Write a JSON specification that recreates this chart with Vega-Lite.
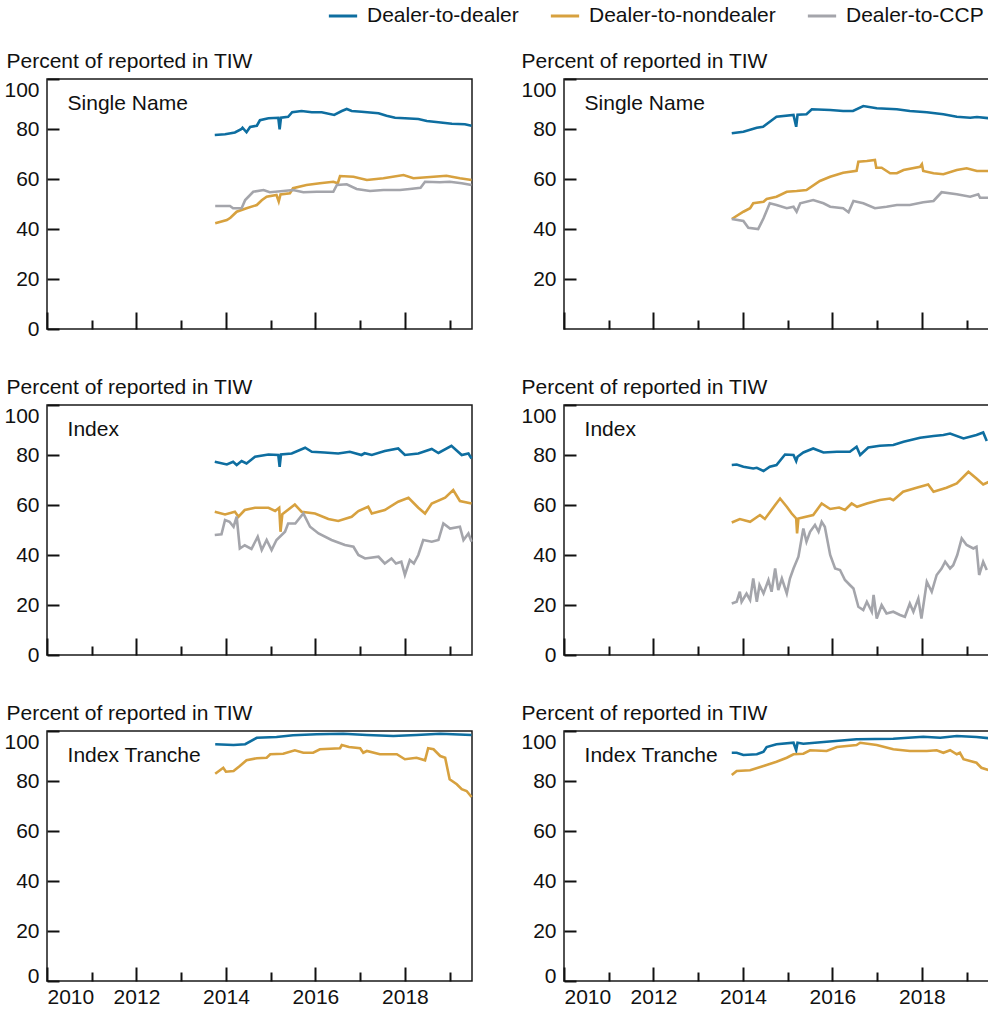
{
"$schema": "https://vega.github.io/schema/vega-lite/v6.json",
"background": "white",
"padding": {"left": 3, "top": 0, "right": 0, "bottom": 0},
"bounds": "flush",
"columns": 2,
"spacing": {"row": 76, "column": 92},
"datasets": {
"snL": [
{"t":2013.75,"v":77.6,"s":"DD"},{"t":2013.98,"v":77.9,"s":"DD"},{"t":2014.2,"v":78.6,"s":"DD"},{"t":2014.34,"v":79.9,"s":"DD"},{"t":2014.37,"v":80.5,"s":"DD"},{"t":2014.46,"v":78.7,"s":"DD"},{"t":2014.54,"v":80.8,"s":"DD"},{"t":2014.69,"v":81.3,"s":"DD"},{"t":2014.76,"v":83.5,"s":"DD"},{"t":2014.95,"v":84.3,"s":"DD"},{"t":2015.17,"v":84.5,"s":"DD"},{"t":2015.2,"v":79.9,"s":"DD"},{"t":2015.23,"v":84.5,"s":"DD"},{"t":2015.39,"v":84.9,"s":"DD"},{"t":2015.48,"v":86.7,"s":"DD"},{"t":2015.69,"v":87.2,"s":"DD"},{"t":2015.92,"v":86.7,"s":"DD"},{"t":2016.14,"v":86.7,"s":"DD"},{"t":2016.42,"v":85.6,"s":"DD"},{"t":2016.59,"v":87.2,"s":"DD"},{"t":2016.7,"v":88.0,"s":"DD"},{"t":2016.81,"v":87.2,"s":"DD"},{"t":2017.03,"v":86.9,"s":"DD"},{"t":2017.41,"v":86.3,"s":"DD"},{"t":2017.59,"v":85.3,"s":"DD"},{"t":2017.78,"v":84.5,"s":"DD"},{"t":2018.0,"v":84.3,"s":"DD"},{"t":2018.3,"v":84.0,"s":"DD"},{"t":2018.49,"v":83.2,"s":"DD"},{"t":2018.75,"v":82.7,"s":"DD"},{"t":2019.05,"v":82.1,"s":"DD"},{"t":2019.34,"v":81.9,"s":"DD"},{"t":2019.49,"v":81.3,"s":"DD"},
{"t":2013.76,"v":42.3,"s":"DN"},{"t":2014.02,"v":43.6,"s":"DN"},{"t":2014.1,"v":44.5,"s":"DN"},{"t":2014.24,"v":46.9,"s":"DN"},{"t":2014.46,"v":48.3,"s":"DN"},{"t":2014.69,"v":49.6,"s":"DN"},{"t":2014.8,"v":51.5,"s":"DN"},{"t":2014.91,"v":52.9,"s":"DN"},{"t":2015.13,"v":53.6,"s":"DN"},{"t":2015.18,"v":51.0,"s":"DN"},{"t":2015.22,"v":53.8,"s":"DN"},{"t":2015.43,"v":54.3,"s":"DN"},{"t":2015.5,"v":56.3,"s":"DN"},{"t":2015.8,"v":57.6,"s":"DN"},{"t":2016.1,"v":58.3,"s":"DN"},{"t":2016.4,"v":58.9,"s":"DN"},{"t":2016.5,"v":58.3,"s":"DN"},{"t":2016.55,"v":61.2,"s":"DN"},{"t":2016.85,"v":60.9,"s":"DN"},{"t":2017.15,"v":59.6,"s":"DN"},{"t":2017.52,"v":60.3,"s":"DN"},{"t":2017.97,"v":61.6,"s":"DN"},{"t":2018.19,"v":60.3,"s":"DN"},{"t":2018.64,"v":60.9,"s":"DN"},{"t":2018.93,"v":61.3,"s":"DN"},{"t":2019.23,"v":60.3,"s":"DN"},{"t":2019.49,"v":59.6,"s":"DN"},
{"t":2013.76,"v":49.2,"s":"DC"},{"t":2014.09,"v":49.2,"s":"DC"},{"t":2014.16,"v":48.3,"s":"DC"},{"t":2014.35,"v":48.3,"s":"DC"},{"t":2014.43,"v":51.6,"s":"DC"},{"t":2014.61,"v":54.9,"s":"DC"},{"t":2014.84,"v":55.6,"s":"DC"},{"t":2014.98,"v":54.7,"s":"DC"},{"t":2015.28,"v":55.2,"s":"DC"},{"t":2015.5,"v":55.6,"s":"DC"},{"t":2015.73,"v":54.7,"s":"DC"},{"t":2016.03,"v":54.9,"s":"DC"},{"t":2016.4,"v":54.9,"s":"DC"},{"t":2016.48,"v":57.6,"s":"DC"},{"t":2016.7,"v":57.9,"s":"DC"},{"t":2016.92,"v":56.0,"s":"DC"},{"t":2017.22,"v":55.2,"s":"DC"},{"t":2017.52,"v":55.6,"s":"DC"},{"t":2017.89,"v":55.6,"s":"DC"},{"t":2018.11,"v":56.0,"s":"DC"},{"t":2018.35,"v":56.5,"s":"DC"},{"t":2018.45,"v":58.9,"s":"DC"},{"t":2018.78,"v":58.7,"s":"DC"},{"t":2019.0,"v":58.9,"s":"DC"},{"t":2019.27,"v":58.3,"s":"DC"},{"t":2019.49,"v":57.6,"s":"DC"}
],
"snR": [
{"t":2013.75,"v":78.3,"s":"DD"},{"t":2014.01,"v":78.9,"s":"DD"},{"t":2014.31,"v":80.5,"s":"DD"},{"t":2014.45,"v":80.9,"s":"DD"},{"t":2014.6,"v":82.9,"s":"DD"},{"t":2014.75,"v":84.9,"s":"DD"},{"t":2015.13,"v":85.6,"s":"DD"},{"t":2015.19,"v":80.9,"s":"DD"},{"t":2015.22,"v":85.7,"s":"DD"},{"t":2015.42,"v":85.9,"s":"DD"},{"t":2015.54,"v":87.9,"s":"DD"},{"t":2015.95,"v":87.6,"s":"DD"},{"t":2016.24,"v":87.2,"s":"DD"},{"t":2016.46,"v":87.2,"s":"DD"},{"t":2016.69,"v":89.2,"s":"DD"},{"t":2016.99,"v":88.3,"s":"DD"},{"t":2017.44,"v":87.9,"s":"DD"},{"t":2017.73,"v":87.2,"s":"DD"},{"t":2018.11,"v":86.7,"s":"DD"},{"t":2018.48,"v":85.9,"s":"DD"},{"t":2018.78,"v":84.9,"s":"DD"},{"t":2019.08,"v":84.5,"s":"DD"},{"t":2019.23,"v":84.8,"s":"DD"},{"t":2019.5,"v":84.3,"s":"DD"},
{"t":2013.75,"v":44.0,"s":"DN"},{"t":2014.01,"v":46.9,"s":"DN"},{"t":2014.16,"v":48.3,"s":"DN"},{"t":2014.23,"v":50.3,"s":"DN"},{"t":2014.46,"v":50.9,"s":"DN"},{"t":2014.53,"v":52.0,"s":"DN"},{"t":2014.75,"v":52.9,"s":"DN"},{"t":2014.98,"v":54.9,"s":"DN"},{"t":2015.2,"v":55.2,"s":"DN"},{"t":2015.42,"v":55.6,"s":"DN"},{"t":2015.72,"v":59.2,"s":"DN"},{"t":2015.95,"v":60.9,"s":"DN"},{"t":2016.24,"v":62.5,"s":"DN"},{"t":2016.54,"v":63.3,"s":"DN"},{"t":2016.58,"v":66.9,"s":"DN"},{"t":2016.77,"v":67.2,"s":"DN"},{"t":2016.95,"v":67.6,"s":"DN"},{"t":2016.98,"v":64.5,"s":"DN"},{"t":2017.1,"v":64.5,"s":"DN"},{"t":2017.29,"v":62.3,"s":"DN"},{"t":2017.44,"v":62.3,"s":"DN"},{"t":2017.59,"v":63.6,"s":"DN"},{"t":2017.96,"v":64.9,"s":"DN"},{"t":2018.0,"v":65.9,"s":"DN"},{"t":2018.03,"v":63.2,"s":"DN"},{"t":2018.26,"v":62.3,"s":"DN"},{"t":2018.48,"v":61.9,"s":"DN"},{"t":2018.78,"v":63.6,"s":"DN"},{"t":2019.0,"v":64.3,"s":"DN"},{"t":2019.23,"v":63.2,"s":"DN"},{"t":2019.5,"v":63.2,"s":"DN"},
{"t":2013.75,"v":44.0,"s":"DC"},{"t":2014.01,"v":43.2,"s":"DC"},{"t":2014.12,"v":40.5,"s":"DC"},{"t":2014.34,"v":40.0,"s":"DC"},{"t":2014.46,"v":44.3,"s":"DC"},{"t":2014.6,"v":50.3,"s":"DC"},{"t":2014.75,"v":49.6,"s":"DC"},{"t":2014.98,"v":48.3,"s":"DC"},{"t":2015.13,"v":48.9,"s":"DC"},{"t":2015.2,"v":46.9,"s":"DC"},{"t":2015.28,"v":50.3,"s":"DC"},{"t":2015.57,"v":51.6,"s":"DC"},{"t":2015.8,"v":50.3,"s":"DC"},{"t":2015.95,"v":48.9,"s":"DC"},{"t":2016.24,"v":48.3,"s":"DC"},{"t":2016.36,"v":46.7,"s":"DC"},{"t":2016.47,"v":51.2,"s":"DC"},{"t":2016.69,"v":50.3,"s":"DC"},{"t":2016.95,"v":48.3,"s":"DC"},{"t":2017.21,"v":48.9,"s":"DC"},{"t":2017.44,"v":49.6,"s":"DC"},{"t":2017.73,"v":49.6,"s":"DC"},{"t":2018.03,"v":50.7,"s":"DC"},{"t":2018.26,"v":51.2,"s":"DC"},{"t":2018.44,"v":54.7,"s":"DC"},{"t":2018.78,"v":53.9,"s":"DC"},{"t":2019.08,"v":52.9,"s":"DC"},{"t":2019.26,"v":53.9,"s":"DC"},{"t":2019.3,"v":52.5,"s":"DC"},{"t":2019.5,"v":52.5,"s":"DC"}
],
"ixL": [
{"t":2013.75,"v":77.3,"s":"DD"},{"t":2014.02,"v":76.2,"s":"DD"},{"t":2014.16,"v":77.3,"s":"DD"},{"t":2014.24,"v":76.0,"s":"DD"},{"t":2014.35,"v":77.6,"s":"DD"},{"t":2014.46,"v":76.6,"s":"DD"},{"t":2014.65,"v":79.3,"s":"DD"},{"t":2014.95,"v":80.2,"s":"DD"},{"t":2015.17,"v":80.0,"s":"DD"},{"t":2015.2,"v":75.3,"s":"DD"},{"t":2015.23,"v":80.2,"s":"DD"},{"t":2015.47,"v":80.6,"s":"DD"},{"t":2015.77,"v":82.9,"s":"DD"},{"t":2015.92,"v":81.3,"s":"DD"},{"t":2016.2,"v":81.0,"s":"DD"},{"t":2016.51,"v":80.6,"s":"DD"},{"t":2016.77,"v":81.3,"s":"DD"},{"t":2017.03,"v":80.0,"s":"DD"},{"t":2017.1,"v":80.7,"s":"DD"},{"t":2017.26,"v":80.0,"s":"DD"},{"t":2017.55,"v":81.6,"s":"DD"},{"t":2017.85,"v":82.6,"s":"DD"},{"t":2018.0,"v":80.0,"s":"DD"},{"t":2018.3,"v":80.6,"s":"DD"},{"t":2018.6,"v":82.4,"s":"DD"},{"t":2018.75,"v":80.8,"s":"DD"},{"t":2019.04,"v":83.7,"s":"DD"},{"t":2019.27,"v":80.0,"s":"DD"},{"t":2019.42,"v":80.6,"s":"DD"},{"t":2019.49,"v":78.6,"s":"DD"},
{"t":2013.75,"v":57.3,"s":"DN"},{"t":2013.98,"v":56.2,"s":"DN"},{"t":2014.2,"v":57.3,"s":"DN"},{"t":2014.28,"v":55.3,"s":"DN"},{"t":2014.42,"v":58.0,"s":"DN"},{"t":2014.65,"v":58.9,"s":"DN"},{"t":2014.95,"v":58.9,"s":"DN"},{"t":2015.1,"v":57.6,"s":"DN"},{"t":2015.19,"v":58.9,"s":"DN"},{"t":2015.22,"v":49.3,"s":"DN"},{"t":2015.26,"v":56.3,"s":"DN"},{"t":2015.54,"v":60.2,"s":"DN"},{"t":2015.69,"v":57.3,"s":"DN"},{"t":2015.99,"v":56.6,"s":"DN"},{"t":2016.29,"v":54.4,"s":"DN"},{"t":2016.51,"v":53.6,"s":"DN"},{"t":2016.81,"v":55.3,"s":"DN"},{"t":2016.96,"v":57.6,"s":"DN"},{"t":2017.18,"v":59.3,"s":"DN"},{"t":2017.26,"v":56.6,"s":"DN"},{"t":2017.55,"v":58.0,"s":"DN"},{"t":2017.85,"v":61.3,"s":"DN"},{"t":2018.08,"v":62.9,"s":"DN"},{"t":2018.3,"v":58.9,"s":"DN"},{"t":2018.45,"v":56.6,"s":"DN"},{"t":2018.6,"v":60.6,"s":"DN"},{"t":2018.9,"v":62.9,"s":"DN"},{"t":2019.08,"v":66.0,"s":"DN"},{"t":2019.23,"v":61.6,"s":"DN"},{"t":2019.49,"v":60.6,"s":"DN"},
{"t":2013.75,"v":48.0,"s":"DC"},{"t":2013.9,"v":48.3,"s":"DC"},{"t":2013.98,"v":54.0,"s":"DC"},{"t":2014.08,"v":53.3,"s":"DC"},{"t":2014.17,"v":51.3,"s":"DC"},{"t":2014.24,"v":55.3,"s":"DC"},{"t":2014.31,"v":42.6,"s":"DC"},{"t":2014.42,"v":43.9,"s":"DC"},{"t":2014.57,"v":42.4,"s":"DC"},{"t":2014.71,"v":47.3,"s":"DC"},{"t":2014.8,"v":42.0,"s":"DC"},{"t":2014.91,"v":46.0,"s":"DC"},{"t":2015.02,"v":42.0,"s":"DC"},{"t":2015.13,"v":46.0,"s":"DC"},{"t":2015.32,"v":49.3,"s":"DC"},{"t":2015.39,"v":52.6,"s":"DC"},{"t":2015.55,"v":52.6,"s":"DC"},{"t":2015.73,"v":56.6,"s":"DC"},{"t":2015.88,"v":51.3,"s":"DC"},{"t":2016.07,"v":48.6,"s":"DC"},{"t":2016.36,"v":46.0,"s":"DC"},{"t":2016.66,"v":44.0,"s":"DC"},{"t":2016.85,"v":43.3,"s":"DC"},{"t":2016.96,"v":40.0,"s":"DC"},{"t":2017.11,"v":38.6,"s":"DC"},{"t":2017.41,"v":39.3,"s":"DC"},{"t":2017.55,"v":36.6,"s":"DC"},{"t":2017.7,"v":38.6,"s":"DC"},{"t":2017.8,"v":36.6,"s":"DC"},{"t":2017.92,"v":37.3,"s":"DC"},{"t":2018.0,"v":32.0,"s":"DC"},{"t":2018.11,"v":38.0,"s":"DC"},{"t":2018.2,"v":36.6,"s":"DC"},{"t":2018.3,"v":40.0,"s":"DC"},{"t":2018.41,"v":46.0,"s":"DC"},{"t":2018.6,"v":45.3,"s":"DC"},{"t":2018.75,"v":46.0,"s":"DC"},{"t":2018.86,"v":52.6,"s":"DC"},{"t":2019.01,"v":50.6,"s":"DC"},{"t":2019.23,"v":51.3,"s":"DC"},{"t":2019.31,"v":46.0,"s":"DC"},{"t":2019.42,"v":48.6,"s":"DC"},{"t":2019.49,"v":45.3,"s":"DC"}
],
"ixR": [
{"t":2013.75,"v":76.0,"s":"DD"},{"t":2013.86,"v":76.2,"s":"DD"},{"t":2014.01,"v":75.3,"s":"DD"},{"t":2014.23,"v":74.6,"s":"DD"},{"t":2014.31,"v":74.9,"s":"DD"},{"t":2014.46,"v":73.6,"s":"DD"},{"t":2014.6,"v":75.3,"s":"DD"},{"t":2014.75,"v":76.0,"s":"DD"},{"t":2014.94,"v":80.2,"s":"DD"},{"t":2015.13,"v":80.0,"s":"DD"},{"t":2015.19,"v":77.6,"s":"DD"},{"t":2015.22,"v":79.3,"s":"DD"},{"t":2015.35,"v":81.0,"s":"DD"},{"t":2015.57,"v":82.6,"s":"DD"},{"t":2015.8,"v":81.0,"s":"DD"},{"t":2016.1,"v":81.3,"s":"DD"},{"t":2016.39,"v":81.3,"s":"DD"},{"t":2016.54,"v":83.3,"s":"DD"},{"t":2016.62,"v":80.0,"s":"DD"},{"t":2016.8,"v":83.0,"s":"DD"},{"t":2017.06,"v":83.7,"s":"DD"},{"t":2017.36,"v":84.0,"s":"DD"},{"t":2017.59,"v":85.3,"s":"DD"},{"t":2017.96,"v":86.9,"s":"DD"},{"t":2018.26,"v":87.6,"s":"DD"},{"t":2018.48,"v":88.0,"s":"DD"},{"t":2018.63,"v":88.6,"s":"DD"},{"t":2018.93,"v":86.6,"s":"DD"},{"t":2019.22,"v":88.0,"s":"DD"},{"t":2019.37,"v":89.0,"s":"DD"},{"t":2019.45,"v":85.6,"s":"DD"},
{"t":2013.75,"v":53.0,"s":"DN"},{"t":2013.93,"v":54.4,"s":"DN"},{"t":2014.16,"v":53.3,"s":"DN"},{"t":2014.38,"v":56.0,"s":"DN"},{"t":2014.49,"v":54.4,"s":"DN"},{"t":2014.72,"v":60.0,"s":"DN"},{"t":2014.83,"v":62.6,"s":"DN"},{"t":2014.98,"v":59.3,"s":"DN"},{"t":2015.09,"v":56.6,"s":"DN"},{"t":2015.19,"v":54.6,"s":"DN"},{"t":2015.21,"v":48.6,"s":"DN"},{"t":2015.24,"v":54.6,"s":"DN"},{"t":2015.57,"v":56.0,"s":"DN"},{"t":2015.76,"v":60.6,"s":"DN"},{"t":2015.95,"v":58.4,"s":"DN"},{"t":2016.15,"v":59.0,"s":"DN"},{"t":2016.28,"v":58.0,"s":"DN"},{"t":2016.43,"v":60.6,"s":"DN"},{"t":2016.55,"v":59.3,"s":"DN"},{"t":2016.77,"v":60.6,"s":"DN"},{"t":2017.06,"v":62.0,"s":"DN"},{"t":2017.29,"v":62.6,"s":"DN"},{"t":2017.36,"v":61.9,"s":"DN"},{"t":2017.58,"v":65.3,"s":"DN"},{"t":2017.88,"v":66.9,"s":"DN"},{"t":2018.14,"v":68.2,"s":"DN"},{"t":2018.26,"v":65.3,"s":"DN"},{"t":2018.55,"v":66.9,"s":"DN"},{"t":2018.78,"v":68.6,"s":"DN"},{"t":2019.04,"v":73.3,"s":"DN"},{"t":2019.22,"v":70.6,"s":"DN"},{"t":2019.37,"v":68.2,"s":"DN"},{"t":2019.5,"v":69.3,"s":"DN"},
{"t":2013.75,"v":20.6,"s":"DC"},{"t":2013.86,"v":21.3,"s":"DC"},{"t":2013.93,"v":25.3,"s":"DC"},{"t":2013.97,"v":21.3,"s":"DC"},{"t":2014.08,"v":24.6,"s":"DC"},{"t":2014.16,"v":22.0,"s":"DC"},{"t":2014.23,"v":30.6,"s":"DC"},{"t":2014.31,"v":21.3,"s":"DC"},{"t":2014.37,"v":28.0,"s":"DC"},{"t":2014.46,"v":24.6,"s":"DC"},{"t":2014.57,"v":30.0,"s":"DC"},{"t":2014.64,"v":25.3,"s":"DC"},{"t":2014.72,"v":34.6,"s":"DC"},{"t":2014.79,"v":26.0,"s":"DC"},{"t":2014.87,"v":30.6,"s":"DC"},{"t":2014.98,"v":24.6,"s":"DC"},{"t":2015.05,"v":30.6,"s":"DC"},{"t":2015.13,"v":34.6,"s":"DC"},{"t":2015.24,"v":39.3,"s":"DC"},{"t":2015.35,"v":50.6,"s":"DC"},{"t":2015.42,"v":45.3,"s":"DC"},{"t":2015.5,"v":49.3,"s":"DC"},{"t":2015.61,"v":52.0,"s":"DC"},{"t":2015.69,"v":49.3,"s":"DC"},{"t":2015.76,"v":53.3,"s":"DC"},{"t":2015.83,"v":51.3,"s":"DC"},{"t":2015.95,"v":40.0,"s":"DC"},{"t":2016.06,"v":34.6,"s":"DC"},{"t":2016.17,"v":34.0,"s":"DC"},{"t":2016.28,"v":30.0,"s":"DC"},{"t":2016.39,"v":28.0,"s":"DC"},{"t":2016.47,"v":26.6,"s":"DC"},{"t":2016.58,"v":19.3,"s":"DC"},{"t":2016.69,"v":18.0,"s":"DC"},{"t":2016.77,"v":21.3,"s":"DC"},{"t":2016.88,"v":17.3,"s":"DC"},{"t":2016.92,"v":24.0,"s":"DC"},{"t":2016.99,"v":14.6,"s":"DC"},{"t":2017.1,"v":20.0,"s":"DC"},{"t":2017.21,"v":16.6,"s":"DC"},{"t":2017.36,"v":17.3,"s":"DC"},{"t":2017.51,"v":16.0,"s":"DC"},{"t":2017.62,"v":15.3,"s":"DC"},{"t":2017.73,"v":20.6,"s":"DC"},{"t":2017.81,"v":17.3,"s":"DC"},{"t":2017.92,"v":22.6,"s":"DC"},{"t":2017.99,"v":14.6,"s":"DC"},{"t":2018.11,"v":29.3,"s":"DC"},{"t":2018.22,"v":25.3,"s":"DC"},{"t":2018.33,"v":32.0,"s":"DC"},{"t":2018.44,"v":34.6,"s":"DC"},{"t":2018.52,"v":37.3,"s":"DC"},{"t":2018.63,"v":34.6,"s":"DC"},{"t":2018.7,"v":35.9,"s":"DC"},{"t":2018.79,"v":40.0,"s":"DC"},{"t":2018.89,"v":46.6,"s":"DC"},{"t":2019.0,"v":44.0,"s":"DC"},{"t":2019.15,"v":42.6,"s":"DC"},{"t":2019.22,"v":43.3,"s":"DC"},{"t":2019.28,"v":32.0,"s":"DC"},{"t":2019.37,"v":37.3,"s":"DC"},{"t":2019.45,"v":34.0,"s":"DC"}
],
"itL": [
{"t":2013.76,"v":94.7,"s":"DD"},{"t":2014.17,"v":94.4,"s":"DD"},{"t":2014.43,"v":94.7,"s":"DD"},{"t":2014.69,"v":97.3,"s":"DD"},{"t":2015.13,"v":97.6,"s":"DD"},{"t":2015.5,"v":98.3,"s":"DD"},{"t":2016.03,"v":98.7,"s":"DD"},{"t":2016.62,"v":98.9,"s":"DD"},{"t":2017.15,"v":98.4,"s":"DD"},{"t":2017.74,"v":98.0,"s":"DD"},{"t":2018.26,"v":98.4,"s":"DD"},{"t":2018.79,"v":98.9,"s":"DD"},{"t":2019.49,"v":98.4,"s":"DD"},
{"t":2013.76,"v":82.9,"s":"DN"},{"t":2013.94,"v":85.3,"s":"DN"},{"t":2014.0,"v":83.7,"s":"DN"},{"t":2014.17,"v":84.0,"s":"DN"},{"t":2014.31,"v":86.0,"s":"DN"},{"t":2014.46,"v":88.3,"s":"DN"},{"t":2014.69,"v":89.1,"s":"DN"},{"t":2014.91,"v":89.3,"s":"DN"},{"t":2014.99,"v":90.7,"s":"DN"},{"t":2015.28,"v":90.9,"s":"DN"},{"t":2015.54,"v":92.3,"s":"DN"},{"t":2015.73,"v":91.3,"s":"DN"},{"t":2015.95,"v":91.3,"s":"DN"},{"t":2016.1,"v":92.7,"s":"DN"},{"t":2016.55,"v":93.1,"s":"DN"},{"t":2016.59,"v":94.4,"s":"DN"},{"t":2016.75,"v":93.6,"s":"DN"},{"t":2017.0,"v":93.1,"s":"DN"},{"t":2017.07,"v":91.3,"s":"DN"},{"t":2017.15,"v":92.0,"s":"DN"},{"t":2017.44,"v":90.7,"s":"DN"},{"t":2017.82,"v":90.7,"s":"DN"},{"t":2018.0,"v":88.7,"s":"DN"},{"t":2018.26,"v":89.3,"s":"DN"},{"t":2018.45,"v":88.3,"s":"DN"},{"t":2018.52,"v":93.1,"s":"DN"},{"t":2018.64,"v":92.7,"s":"DN"},{"t":2018.79,"v":90.0,"s":"DN"},{"t":2018.9,"v":89.3,"s":"DN"},{"t":2019.0,"v":80.7,"s":"DN"},{"t":2019.16,"v":78.7,"s":"DN"},{"t":2019.27,"v":76.7,"s":"DN"},{"t":2019.38,"v":76.0,"s":"DN"},{"t":2019.49,"v":73.6,"s":"DN"}
],
"itR": [
{"t":2013.75,"v":91.3,"s":"DD"},{"t":2013.86,"v":91.3,"s":"DD"},{"t":2014.01,"v":90.4,"s":"DD"},{"t":2014.31,"v":90.7,"s":"DD"},{"t":2014.46,"v":91.7,"s":"DD"},{"t":2014.53,"v":93.6,"s":"DD"},{"t":2014.75,"v":94.7,"s":"DD"},{"t":2015.13,"v":95.3,"s":"DD"},{"t":2015.19,"v":92.3,"s":"DD"},{"t":2015.22,"v":95.3,"s":"DD"},{"t":2015.35,"v":94.9,"s":"DD"},{"t":2015.87,"v":95.7,"s":"DD"},{"t":2016.54,"v":96.7,"s":"DD"},{"t":2017.36,"v":96.9,"s":"DD"},{"t":2018.03,"v":97.7,"s":"DD"},{"t":2018.41,"v":97.3,"s":"DD"},{"t":2018.78,"v":98.0,"s":"DD"},{"t":2019.22,"v":97.6,"s":"DD"},{"t":2019.5,"v":97.1,"s":"DD"},
{"t":2013.75,"v":82.4,"s":"DN"},{"t":2013.86,"v":84.0,"s":"DN"},{"t":2014.16,"v":84.3,"s":"DN"},{"t":2014.46,"v":86.0,"s":"DN"},{"t":2014.75,"v":87.7,"s":"DN"},{"t":2014.98,"v":89.3,"s":"DN"},{"t":2015.13,"v":90.7,"s":"DN"},{"t":2015.35,"v":90.9,"s":"DN"},{"t":2015.5,"v":92.3,"s":"DN"},{"t":2015.87,"v":92.0,"s":"DN"},{"t":2016.1,"v":93.6,"s":"DN"},{"t":2016.54,"v":94.4,"s":"DN"},{"t":2016.62,"v":95.3,"s":"DN"},{"t":2016.99,"v":94.4,"s":"DN"},{"t":2017.36,"v":92.7,"s":"DN"},{"t":2017.73,"v":92.0,"s":"DN"},{"t":2018.11,"v":92.0,"s":"DN"},{"t":2018.33,"v":92.3,"s":"DN"},{"t":2018.48,"v":91.3,"s":"DN"},{"t":2018.63,"v":92.3,"s":"DN"},{"t":2018.78,"v":90.7,"s":"DN"},{"t":2018.85,"v":91.3,"s":"DN"},{"t":2018.93,"v":88.7,"s":"DN"},{"t":2019.22,"v":87.3,"s":"DN"},{"t":2019.33,"v":85.3,"s":"DN"},{"t":2019.5,"v":84.3,"s":"DN"}
]
},
"concat": [
 {"width": 425, "height": 250, "layer": [
  {"data": {"name": "snL"}, "mark": {"type": "line", "strokeWidth": 2.6},
   "encoding": {
    "x": {"field": "t", "type": "quantitative", "scale": {"domain": [2010, 2019.5], "nice": false, "zero": false}, "axis": {"orient": "bottom", "values": [2010, 2012, 2014, 2016, 2018], "format": "d", "labels": false, "tickSize": -17, "labelPadding": 25, "title": null}},
    "y": {"field": "v", "type": "quantitative", "scale": {"domain": [0, 100], "nice": false}, "axis": {"values": [0, 20, 40, 60, 80, 100], "title": "Percent of reported in TIW", "titleX": -41, "titleY": -12, "titleAngle": 0, "titleAlign": "left", "titleBaseline": "alphabetic", "tickSize": -12, "labelPadding": 20, "labelBaseline": {"condition": {"test": "datum.value == 100", "value": "top"}, "value": "middle"}}},
    "color": {"field": "s", "type": "nominal", "scale": {"domain": ["DD", "DN", "DC"], "range": ["#0e6ea0", "#d7a13f", "#a4a5ab"]},
     "legend": {"orient": "none", "legendX": 280, "legendY": -79, "direction": "horizontal", "title": null, "symbolType": "stroke", "symbolSize": 800, "symbolStrokeWidth": 3, "labelFontSize": 21, "labelOffset": 8, "labelLimit": 400, "columnPadding": 25, "padding": 0, "labelExpr": "datum.value == 'DD' ? 'Dealer-to-dealer' : datum.value == 'DN' ? 'Dealer-to-nondealer' : 'Dealer-to-CCP'"}}
   }},
  {"data": {"values": [{"label": "Single Name"}]}, "mark": {"type": "text", "align": "left", "baseline": "middle", "fontSize": 21, "color": "#111"},
   "encoding": {"x": {"datum": 2010.46, "type": "quantitative", "axis": {"orient": "bottom", "values": [2011, 2013, 2015, 2017, 2019], "labels": false, "tickSize": -9, "title": null}}, "y": {"datum": 90, "type": "quantitative"}, "text": {"field": "label"}}}
 ], "resolve": {"axis": {"x": "independent"}}},
 {"width": 425, "height": 250, "layer": [
  {"data": {"name": "snR"}, "mark": {"type": "line", "strokeWidth": 2.6},
   "encoding": {
    "x": {"field": "t", "type": "quantitative", "scale": {"domain": [2010, 2019.5], "nice": false, "zero": false}, "axis": {"orient": "bottom", "values": [2010, 2012, 2014, 2016, 2018], "format": "d", "labels": false, "tickSize": -17, "labelPadding": 25, "title": null}},
    "y": {"field": "v", "type": "quantitative", "scale": {"domain": [0, 100], "nice": false}, "axis": {"values": [20, 40, 60, 80, 100], "title": "Percent of reported in TIW", "titleX": -43, "titleY": -12, "titleAngle": 0, "titleAlign": "left", "titleBaseline": "alphabetic", "tickSize": -12, "labelPadding": 20, "labelBaseline": {"condition": {"test": "datum.value == 100", "value": "top"}, "value": "middle"}}},
    "color": {"field": "s", "type": "nominal", "scale": {"domain": ["DD", "DN", "DC"], "range": ["#0e6ea0", "#d7a13f", "#a4a5ab"]}}
   }},
  {"data": {"values": [{"label": "Single Name"}]}, "mark": {"type": "text", "align": "left", "baseline": "middle", "fontSize": 21, "color": "#111"},
   "encoding": {"x": {"datum": 2010.46, "type": "quantitative", "axis": {"orient": "bottom", "values": [2011, 2013, 2015, 2017, 2019], "labels": false, "tickSize": -9, "title": null}}, "y": {"datum": 90, "type": "quantitative"}, "text": {"field": "label"}}}
 ], "resolve": {"axis": {"x": "independent"}}},
 {"width": 425, "height": 250, "layer": [
  {"data": {"name": "ixL"}, "mark": {"type": "line", "strokeWidth": 2.6},
   "encoding": {
    "x": {"field": "t", "type": "quantitative", "scale": {"domain": [2010, 2019.5], "nice": false, "zero": false}, "axis": {"orient": "bottom", "values": [2010, 2012, 2014, 2016, 2018], "format": "d", "labels": false, "tickSize": -17, "labelPadding": 25, "title": null}},
    "y": {"field": "v", "type": "quantitative", "scale": {"domain": [0, 100], "nice": false}, "axis": {"values": [0, 20, 40, 60, 80, 100], "title": "Percent of reported in TIW", "titleX": -41, "titleY": -12, "titleAngle": 0, "titleAlign": "left", "titleBaseline": "alphabetic", "tickSize": -12, "labelPadding": 20, "labelBaseline": {"condition": {"test": "datum.value == 100", "value": "top"}, "value": "middle"}}},
    "color": {"field": "s", "type": "nominal", "scale": {"domain": ["DD", "DN", "DC"], "range": ["#0e6ea0", "#d7a13f", "#a4a5ab"]}}
   }},
  {"data": {"values": [{"label": "Index"}]}, "mark": {"type": "text", "align": "left", "baseline": "middle", "fontSize": 21, "color": "#111"},
   "encoding": {"x": {"datum": 2010.46, "type": "quantitative", "axis": {"orient": "bottom", "values": [2011, 2013, 2015, 2017, 2019], "labels": false, "tickSize": -9, "title": null}}, "y": {"datum": 90, "type": "quantitative"}, "text": {"field": "label"}}}
 ], "resolve": {"axis": {"x": "independent"}}},
 {"width": 425, "height": 250, "layer": [
  {"data": {"name": "ixR"}, "mark": {"type": "line", "strokeWidth": 2.6},
   "encoding": {
    "x": {"field": "t", "type": "quantitative", "scale": {"domain": [2010, 2019.5], "nice": false, "zero": false}, "axis": {"orient": "bottom", "values": [2010, 2012, 2014, 2016, 2018], "format": "d", "labels": false, "tickSize": -17, "labelPadding": 25, "title": null}},
    "y": {"field": "v", "type": "quantitative", "scale": {"domain": [0, 100], "nice": false}, "axis": {"values": [0, 20, 40, 60, 80, 100], "title": "Percent of reported in TIW", "titleX": -43, "titleY": -12, "titleAngle": 0, "titleAlign": "left", "titleBaseline": "alphabetic", "tickSize": -12, "labelPadding": 20, "labelBaseline": {"condition": {"test": "datum.value == 100", "value": "top"}, "value": "middle"}}},
    "color": {"field": "s", "type": "nominal", "scale": {"domain": ["DD", "DN", "DC"], "range": ["#0e6ea0", "#d7a13f", "#a4a5ab"]}}
   }},
  {"data": {"values": [{"label": "Index"}]}, "mark": {"type": "text", "align": "left", "baseline": "middle", "fontSize": 21, "color": "#111"},
   "encoding": {"x": {"datum": 2010.46, "type": "quantitative", "axis": {"orient": "bottom", "values": [2011, 2013, 2015, 2017, 2019], "labels": false, "tickSize": -9, "title": null}}, "y": {"datum": 90, "type": "quantitative"}, "text": {"field": "label"}}}
 ], "resolve": {"axis": {"x": "independent"}}},
 {"width": 425, "height": 250, "layer": [
  {"data": {"name": "itL"}, "mark": {"type": "line", "strokeWidth": 2.6},
   "encoding": {
    "x": {"field": "t", "type": "quantitative", "scale": {"domain": [2010, 2019.5], "nice": false, "zero": false}, "axis": {"orient": "bottom", "values": [2010, 2012, 2014, 2016, 2018], "format": "d", "labels": true, "tickSize": -14, "labelPadding": 19, "title": null}},
    "y": {"field": "v", "type": "quantitative", "scale": {"domain": [0, 100], "nice": false}, "axis": {"values": [0, 20, 40, 60, 80, 100], "title": "Percent of reported in TIW", "titleX": -41, "titleY": -12, "titleAngle": 0, "titleAlign": "left", "titleBaseline": "alphabetic", "tickSize": -12, "labelPadding": 20, "labelBaseline": {"condition": {"test": "datum.value == 100", "value": "top"}, "value": "middle"}, "labelOffset": {"condition": {"test": "datum.value == 0", "value": -5}, "value": 0}}},
    "color": {"field": "s", "type": "nominal", "scale": {"domain": ["DD", "DN", "DC"], "range": ["#0e6ea0", "#d7a13f", "#a4a5ab"]}}
   }},
  {"data": {"values": [{"label": "Index Tranche"}]}, "mark": {"type": "text", "align": "left", "baseline": "middle", "fontSize": 21, "color": "#111"},
   "encoding": {"x": {"datum": 2010.46, "type": "quantitative", "axis": {"orient": "bottom", "values": [2011, 2013, 2015, 2017, 2019], "labels": false, "tickSize": -9, "title": null}}, "y": {"datum": 90, "type": "quantitative"}, "text": {"field": "label"}}}
 ], "resolve": {"axis": {"x": "independent"}}},
 {"width": 425, "height": 250, "layer": [
  {"data": {"name": "itR"}, "mark": {"type": "line", "strokeWidth": 2.6},
   "encoding": {
    "x": {"field": "t", "type": "quantitative", "scale": {"domain": [2010, 2019.5], "nice": false, "zero": false}, "axis": {"orient": "bottom", "values": [2010, 2012, 2014, 2016, 2018], "format": "d", "labels": true, "tickSize": -14, "labelPadding": 19, "title": null}},
    "y": {"field": "v", "type": "quantitative", "scale": {"domain": [0, 100], "nice": false}, "axis": {"values": [0, 20, 40, 60, 80, 100], "title": "Percent of reported in TIW", "titleX": -43, "titleY": -12, "titleAngle": 0, "titleAlign": "left", "titleBaseline": "alphabetic", "tickSize": -12, "labelPadding": 20, "labelBaseline": {"condition": {"test": "datum.value == 100", "value": "top"}, "value": "middle"}, "labelOffset": {"condition": {"test": "datum.value == 0", "value": -5}, "value": 0}}},
    "color": {"field": "s", "type": "nominal", "scale": {"domain": ["DD", "DN", "DC"], "range": ["#0e6ea0", "#d7a13f", "#a4a5ab"]}}
   }},
  {"data": {"values": [{"label": "Index Tranche"}]}, "mark": {"type": "text", "align": "left", "baseline": "middle", "fontSize": 21, "color": "#111"},
   "encoding": {"x": {"datum": 2010.46, "type": "quantitative", "axis": {"orient": "bottom", "values": [2011, 2013, 2015, 2017, 2019], "labels": false, "tickSize": -9, "title": null}}, "y": {"datum": 90, "type": "quantitative"}, "text": {"field": "label"}}}
 ], "resolve": {"axis": {"x": "independent"}}}
],
"config": {
 "font": "Liberation Sans",
 "view": {"stroke": "#1a1a1a", "strokeWidth": 1.5},
 "axis": {"grid": false, "domain": false, "labelFontSize": 21, "labelColor": "#111", "tickColor": "#111", "tickWidth": 2, "labelFont": "Liberation Sans", "titleFont": "Liberation Sans", "titleFontSize": 21, "titleFontWeight": "normal", "titleColor": "#111"},
 "legend": {"labelFont": "Liberation Sans", "labelColor": "#111"},
 "text": {"font": "Liberation Sans"}
}
}
